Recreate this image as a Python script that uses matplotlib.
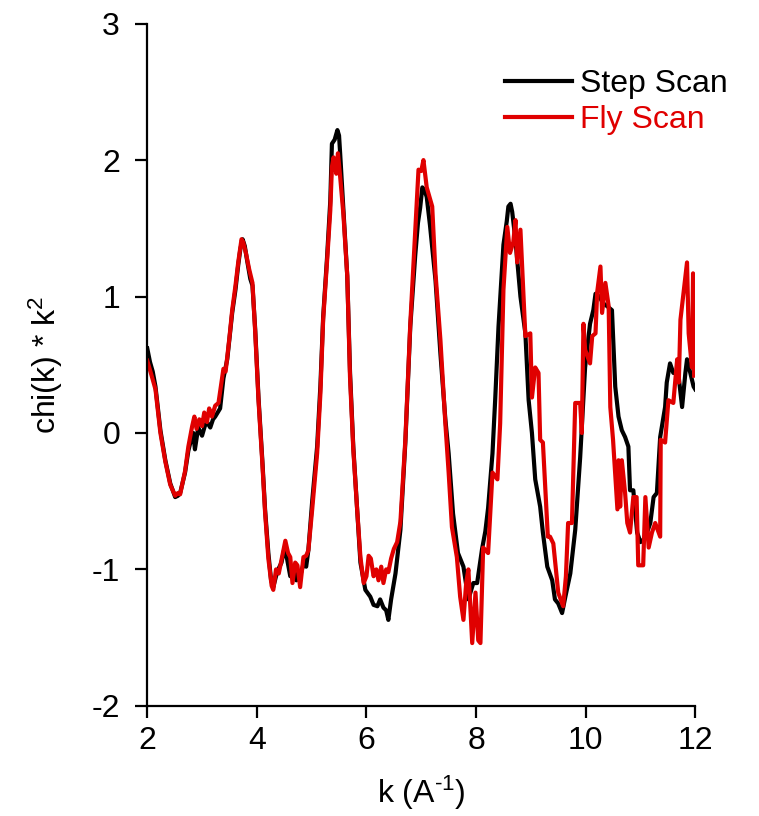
import numpy as np
import matplotlib.pyplot as plt

plt.rcParams['font.family'] = ['Liberation Sans', 'DejaVu Sans']
plt.rcParams['axes.unicode_minus'] = False
plt.rcParams['mathtext.fontset'] = 'custom'
plt.rcParams['mathtext.rm'] = 'Liberation Sans'
plt.rcParams['mathtext.it'] = 'Liberation Sans:italic'

# step scan (black)
k_step = [2.00, 2.05, 2.10, 2.15, 2.24, 2.33, 2.42, 2.51, 2.56, 2.60, 2.69, 2.75, 2.80, 2.84, 2.87,
          2.93, 3.00, 3.05, 3.09, 3.15, 3.20, 3.24, 3.33, 3.39, 3.46, 3.55, 3.61, 3.66, 3.70, 3.74,
          3.78, 3.82, 3.88, 3.92, 3.97, 4.03, 4.10, 4.15, 4.21, 4.26, 4.30, 4.35, 4.39, 4.45, 4.50,
          4.55, 4.61, 4.67, 4.72, 4.79, 4.85, 4.90, 4.94, 5.01, 5.10, 5.16, 5.21, 5.28, 5.34, 5.37,
          5.42, 5.47, 5.50, 5.52, 5.58, 5.65, 5.70, 5.76, 5.83, 5.89, 5.98, 6.07, 6.13, 6.20, 6.25,
          6.31, 6.36, 6.40, 6.45, 6.53, 6.62, 6.71, 6.80, 6.89, 6.94, 6.98, 7.02, 7.06, 7.10, 7.16,
          7.26, 7.35, 7.44, 7.50, 7.58, 7.67, 7.77, 7.86, 7.95, 8.02, 8.11, 8.17, 8.22, 8.30, 8.35,
          8.41, 8.50, 8.56, 8.59, 8.63, 8.66, 8.72, 8.81, 8.90, 8.96, 9.02, 9.08, 9.17, 9.22, 9.30,
          9.39, 9.44, 9.50, 9.57, 9.63, 9.72, 9.81, 9.90, 9.99, 10.08, 10.14, 10.18, 10.25, 10.32,
          10.39, 10.48, 10.54, 10.60, 10.66, 10.72, 10.78, 10.81, 10.87, 10.94, 11.00, 11.06, 11.12,
          11.18, 11.24, 11.30, 11.36, 11.45, 11.48, 11.54, 11.60, 11.69, 11.76, 11.82, 11.85, 11.91,
          11.97, 12.00]
chi_step = [0.62, 0.52, 0.45, 0.34, 0.02, -0.20, -0.37, -0.47, -0.46, -0.44, -0.29, -0.13, -0.05, 0.00, -0.12,
            0.04, -0.02, 0.05, 0.08, 0.04, 0.10, 0.12, 0.18, 0.40, 0.54, 0.88, 1.05, 1.23, 1.35, 1.42,
            1.37, 1.27, 1.13, 1.08, 0.76, 0.26, -0.20, -0.56, -0.88, -1.08, -1.13, -1.05, -1.00, -0.95, -0.85,
            -0.92, -1.05, -0.98, -1.08, -1.05, -0.96, -0.98, -0.86, -0.50, -0.10, 0.35, 0.85, 1.28, 1.70, 2.12,
            2.15, 2.22, 2.18, 2.05, 1.63, 1.15, 0.45, -0.10, -0.56, -0.95, -1.15, -1.20, -1.26, -1.27, -1.22,
            -1.28, -1.30, -1.37, -1.22, -1.03, -0.71, -0.07, 0.78, 1.30, 1.54, 1.65, 1.80, 1.78, 1.73, 1.52,
            1.12, 0.58, 0.10, -0.15, -0.59, -0.88, -0.98, -1.22, -1.10, -1.10, -0.85, -0.72, -0.55, -0.15, 0.25,
            0.78, 1.38, 1.55, 1.66, 1.68, 1.62, 1.41, 1.00, 0.73, 0.24, 0.00, -0.34, -0.54, -0.73, -0.98,
            -1.08, -1.22, -1.25, -1.32, -1.20, -1.03, -0.71, -0.18, 0.48, 0.80, 0.90, 1.02, 1.00, 0.95,
            0.93, 0.90, 0.34, 0.12, 0.02, -0.03, -0.10, -0.42, -0.42, -0.73, -0.80, -0.78, -0.73,
            -0.66, -0.47, -0.44, -0.03, 0.19, 0.37, 0.51, 0.44, 0.44, 0.19, 0.44, 0.54, 0.44,
            0.34, 0.32]

# fly scan (red)
k_fly = [2.00, 2.08, 2.15, 2.24, 2.33, 2.42, 2.51, 2.56, 2.60, 2.69, 2.75, 2.82, 2.86, 2.90, 2.95,
         3.00, 3.04, 3.09, 3.13, 3.18, 3.24, 3.30, 3.35, 3.39, 3.43, 3.50, 3.55, 3.61, 3.66, 3.72,
         3.75, 3.80, 3.86, 3.92, 3.97, 4.03, 4.10, 4.15, 4.21, 4.27, 4.30, 4.35, 4.40, 4.45, 4.52,
         4.57, 4.61, 4.65, 4.70, 4.74, 4.79, 4.85, 4.90, 4.94, 5.01, 5.10, 5.16, 5.21, 5.28, 5.34,
         5.37, 5.40, 5.45, 5.48, 5.52, 5.58, 5.65, 5.70, 5.76, 5.83, 5.89, 5.95, 6.00, 6.04, 6.08,
         6.13, 6.18, 6.22, 6.27, 6.31, 6.36, 6.40, 6.45, 6.50, 6.56, 6.62, 6.71, 6.80, 6.89, 6.95,
         7.00, 7.04, 7.10, 7.20, 7.26, 7.35, 7.44, 7.50, 7.56, 7.65, 7.71, 7.77, 7.82, 7.86, 7.93,
         7.99, 8.04, 8.08, 8.13, 8.22, 8.30, 8.39, 8.44, 8.50, 8.57, 8.62, 8.68, 8.72, 8.75, 8.81,
         8.90, 8.99, 9.02, 9.08, 9.14, 9.17, 9.22, 9.31, 9.35, 9.41, 9.44, 9.50, 9.59, 9.64, 9.68,
         9.75, 9.81, 9.90, 9.93, 9.96, 9.99, 10.08, 10.12, 10.18, 10.21, 10.27, 10.30, 10.36, 10.42,
         10.45, 10.50, 10.58, 10.60, 10.63, 10.66, 10.72, 10.76, 10.81, 10.87, 10.93, 10.96, 11.05,
         11.09, 11.15, 11.21, 11.27, 11.36, 11.37, 11.45, 11.51, 11.60, 11.67, 11.70, 11.73, 11.85,
         11.88, 11.94, 11.96, 11.98]
chi_fly = [0.53, 0.42, 0.32, 0.00, -0.21, -0.38, -0.46, -0.44, -0.45, -0.28, -0.10, 0.05, 0.12, 0.03, 0.10,
           0.05, 0.15, 0.08, 0.18, 0.12, 0.20, 0.22, 0.36, 0.47, 0.45, 0.70, 0.90, 1.08, 1.25, 1.42,
           1.40, 1.32, 1.20, 1.10, 0.74, 0.24, -0.22, -0.58, -0.92, -1.12, -1.15, -1.00, -1.03, -0.93, -0.79,
           -0.88, -0.91, -1.10, -0.95, -0.97, -1.13, -0.91, -0.90, -0.86, -0.56, -0.15, 0.29, 0.83, 1.25, 1.63,
           1.95, 2.02, 1.90, 2.05, 1.88, 1.60, 1.15, 0.41, -0.12, -0.56, -0.91, -1.10, -1.05, -0.90, -0.92,
           -1.05, -1.00, -1.08, -0.98, -1.10, -1.00, -1.02, -0.92, -0.85, -0.80, -0.65, -0.05, 0.80, 1.47, 1.93,
           1.92, 2.00, 1.80, 1.66, 1.17, 0.68, 0.07, -0.29, -0.69, -0.91, -1.20, -1.37, -1.10, -1.00, -1.54,
           -1.17, -1.52, -1.54, -0.84, -0.88, -0.29, -0.34, 0.07, 1.05, 1.51, 1.32, 1.40, 1.56, 1.25, 1.49,
           0.71, 0.73, 0.26, 0.48, 0.44, -0.05, -0.07, -0.76, -0.76, -0.81, -0.93, -1.17, -1.27, -1.05, -0.66,
           -0.66, 0.22, 0.22, 0.00, 0.80, 0.61, 0.51, 0.71, 0.73, 1.03, 1.22, 0.88, 1.10, 0.93,
           0.19, -0.05, -0.56, -0.20, -0.54, -0.20, -0.44, -0.66, -0.73, -0.47, -0.47, -0.97, -0.97,
           -0.47, -0.84, -0.73, -0.66, -0.76, -0.05, -0.07, 0.24, 0.22, 0.54, 0.37, 0.83, 1.25,
           0.73, 0.48, 1.17, 0.42]

fig = plt.figure(figsize=(7.59, 8.16), dpi=100)
ax = fig.add_axes([0.194, 0.135, 0.722, 0.836])

ax.plot(k_step, chi_step, color='black', lw=3.0, label='Step Scan')
ax.plot(k_fly, chi_fly, color='#e00000', lw=3.0, label='Fly Scan')

ax.set_xlim(2, 12)
ax.set_ylim(-2, 3)
ax.set_xticks([2, 4, 6, 8, 10, 12])
ax.set_yticks([-2, -1, 0, 1, 2, 3])
for s in ['top', 'right']:
    ax.spines[s].set_visible(False)
for s in ['left', 'bottom']:
    ax.spines[s].set_linewidth(1.6)
ax.tick_params(axis='both', direction='out', length=8.6, width=1.6, labelsize=23)
ax.tick_params(axis='x', pad=6)
ax.tick_params(axis='y', pad=11)

ax.set_xlabel(r'k (A$^{\mathregular{\text{-1}}}$)', fontsize=23)
ax.set_ylabel(r'chi(k) * k$^{\mathregular{2}}$', fontsize=23)
ax.xaxis.set_label_coords(0.5, -0.1)
ax.yaxis.set_label_coords(-0.15, 0.5)

leg = ax.legend(loc='upper left', bbox_to_anchor=(505 / 759, 1 - 69 / 816),
                bbox_transform=fig.transFigure, frameon=False, fontsize=23,
                handlelength=2.1, handletextpad=0.25, labelspacing=0.2,
                borderpad=0, borderaxespad=0, labelcolor=['black', '#e00000'])

fig.savefig('out.png', dpi=100)
